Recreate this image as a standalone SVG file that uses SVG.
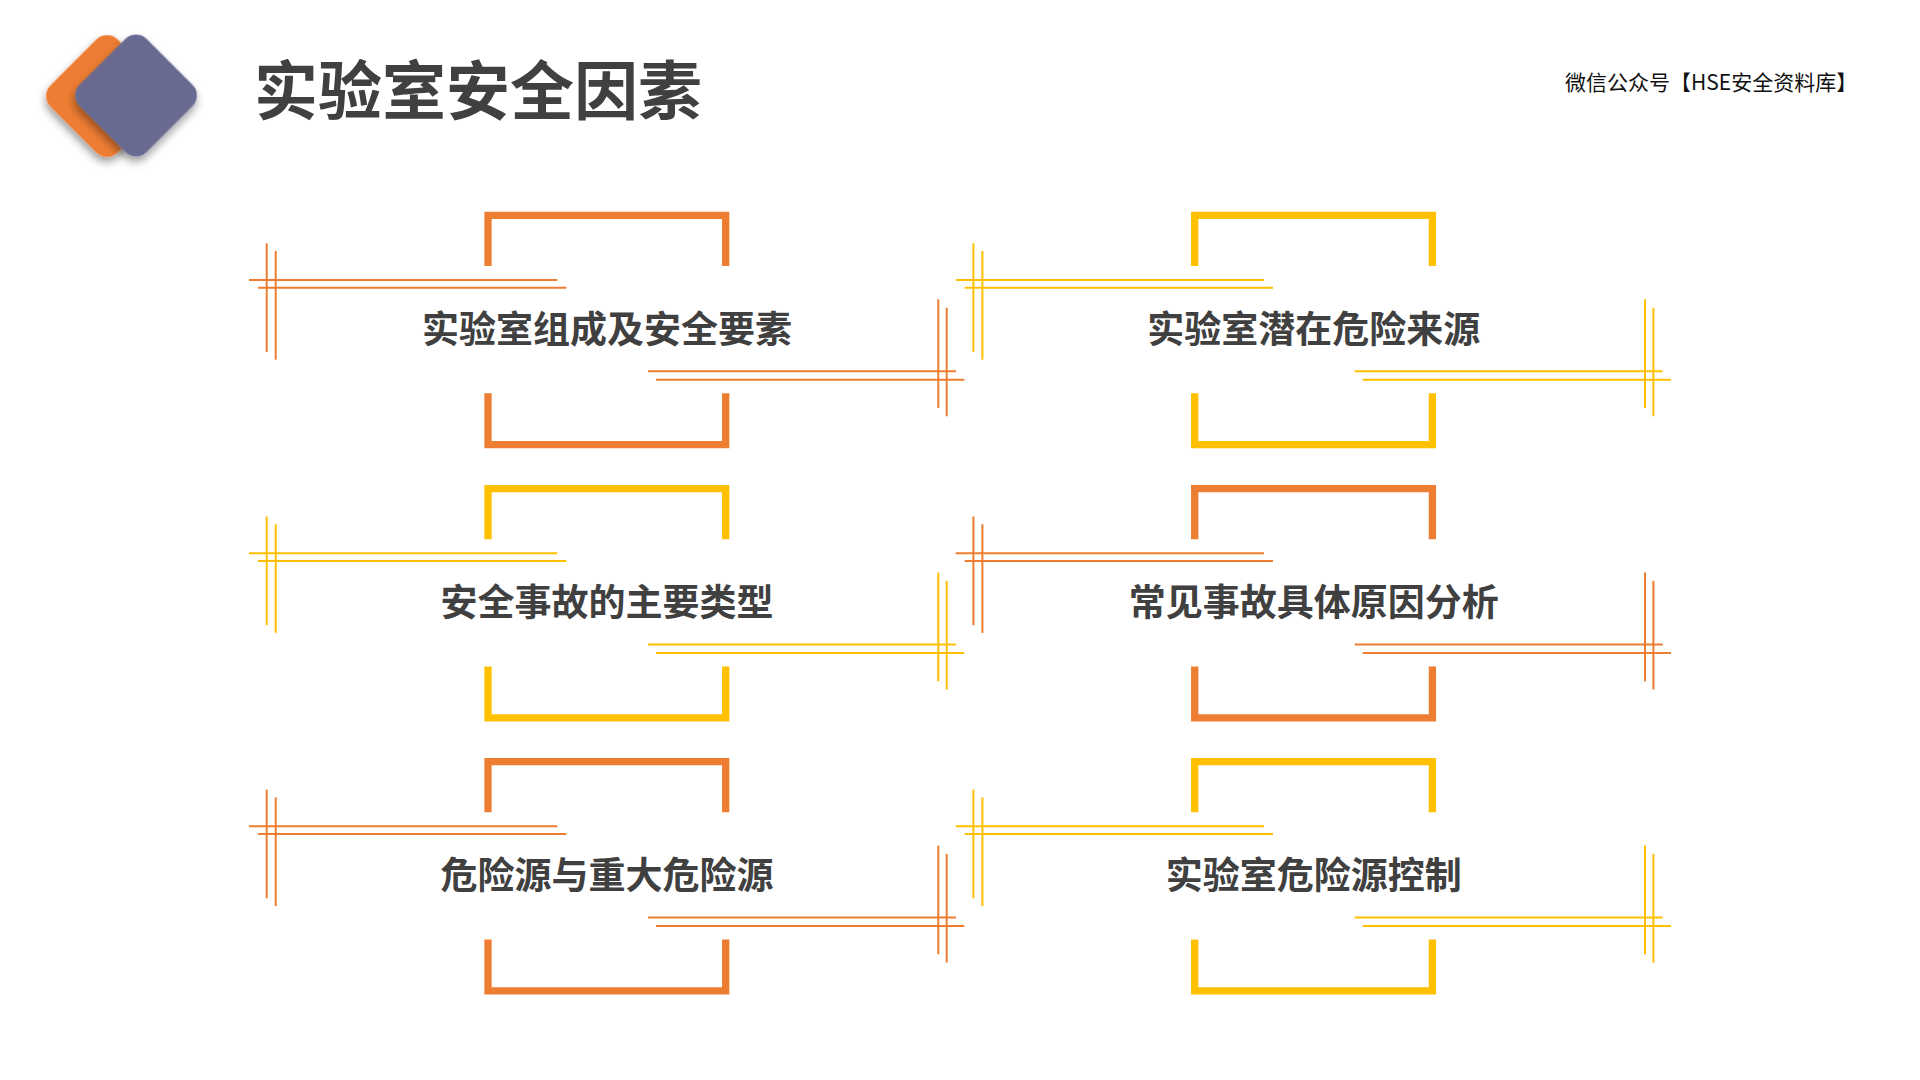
<svg xmlns="http://www.w3.org/2000/svg" xmlns:xlink="http://www.w3.org/1999/xlink" width="1920" height="1080" viewBox="0 0 1920 1080">
  <style>
    .orange { color: #ED7D31; }
    .yellow { color: #FFC000; }
    .frame { fill: none; stroke: currentColor; stroke-width: 7.3; stroke-linecap: butt; stroke-linejoin: miter; }
    .deco { fill: none; stroke: currentColor; stroke-width: 2; }
    .label { font-family: "Noto Sans CJK SC", "Noto Sans", sans-serif; font-weight: 700; font-size: 37px; fill: #404040; text-anchor: middle; dominant-baseline: central; }
    .title { font-family: "Noto Sans CJK SC", "Noto Sans", sans-serif; font-weight: 700; font-size: 64px; fill: #404040; dominant-baseline: central; }
    .mark { font-family: "Noto Sans CJK SC", "Liberation Sans", sans-serif; font-size: 21px; fill: #111111; dominant-baseline: central; }
  </style>
  <defs>
    <filter id="shadow" x="-30%" y="-30%" width="160%" height="160%">
      <feDropShadow dx="3" dy="4" stdDeviation="4" flood-color="#000000" flood-opacity="0.4"/>
    </filter>
    <g id="card">
      <path class="frame" d="M488,266 V215.4 H725.7 V266"/>
      <path class="frame" d="M488,393.3 V444.6 H725.7 V393.3"/>
      <line class="deco" x1="249" y1="280" x2="557.3" y2="280"/>
      <line class="deco" x1="258" y1="287.7" x2="566.3" y2="287.7"/>
      <line class="deco" x1="266.7" y1="243.3" x2="266.7" y2="352"/>
      <line class="deco" x1="275.7" y1="251" x2="275.7" y2="359.7"/>
      <line class="deco" x1="648" y1="371.3" x2="956" y2="371.3"/>
      <line class="deco" x1="656" y1="379.7" x2="964.3" y2="379.7"/>
      <line class="deco" x1="938.3" y1="299.3" x2="938.3" y2="408"/>
      <line class="deco" x1="946.7" y1="307.7" x2="946.7" y2="416.3"/>
    </g>
  </defs>

  <rect width="1920" height="1080" fill="#FFFFFF"/>

  <g id="logo">
    <rect x="-47.5" y="-47.5" width="95" height="95" rx="15" fill="#ED7D31" filter="url(#shadow)" transform="translate(107,96) rotate(45)"/>
    <rect x="-47.5" y="-47.5" width="95" height="95" rx="15" fill="#686A92" filter="url(#shadow)" transform="translate(136,95.5) rotate(45)"/>
  </g>

  <g id="title">
    <text class="title" x="254" y="85.5">实验室安全因素</text>
  </g>

  <g id="watermark">
    <text class="mark" x="1565" y="80.5">微信公众号【HSE安全资料库】</text>
  </g>

  <g id="node-1" class="orange">
    <use xlink:href="#card" href="#card"/>
    <text class="label" x="607" y="327">实验室组成及安全要素</text>
  </g>

  <g id="node-2" class="yellow" transform="translate(706.7,0)">
    <use xlink:href="#card" href="#card"/>
    <text class="label" x="607" y="327">实验室潜在危险来源</text>
  </g>

  <g id="node-3" class="yellow" transform="translate(0,273.2)">
    <use xlink:href="#card" href="#card"/>
    <text class="label" x="607" y="327">安全事故的主要类型</text>
  </g>

  <g id="node-4" class="orange" transform="translate(706.7,273.2)">
    <use xlink:href="#card" href="#card"/>
    <text class="label" x="607" y="327">常见事故具体原因分析</text>
  </g>

  <g id="node-5" class="orange" transform="translate(0,546.3)">
    <use xlink:href="#card" href="#card"/>
    <text class="label" x="607" y="327">危险源与重大危险源</text>
  </g>

  <g id="node-6" class="yellow" transform="translate(706.7,546.3)">
    <use xlink:href="#card" href="#card"/>
    <text class="label" x="607" y="327">实验室危险源控制</text>
  </g>
</svg>
